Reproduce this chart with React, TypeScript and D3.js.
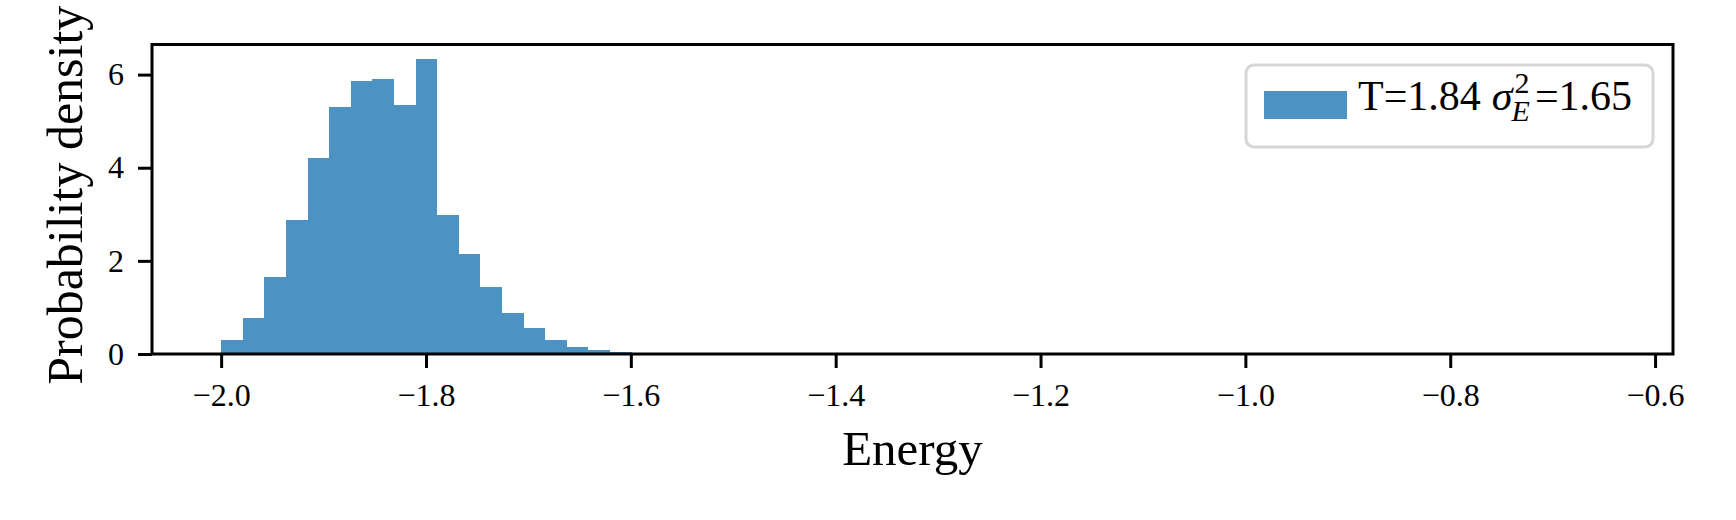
import React, { useEffect, useRef } from 'react';
import * as d3 from 'd3';

// histogram of sampled energies (density), bins start at -2.0
const binStart = -2.0;
const binWidth = 0.02109;
const densities = [
  0.3, 0.78, 1.65, 2.87, 4.21, 5.3, 5.86, 5.9, 5.34, 6.33,
  2.98, 2.14, 1.43, 0.89, 0.55, 0.31, 0.16, 0.08, 0.04,
];
// full range of the energy samples (the tail bins are ~0)
const dataRange = [-2.0, -0.65];

const xTicks = [-2.0, -1.8, -1.6, -1.4, -1.2, -1.0, -0.8, -0.6];
const yTicks = [0, 2, 4, 6];

const legendT = '1.84';
const legendVar = '1.65';

const W = 1736;
const H = 520;
const FONT = '"Liberation Serif", "Times New Roman", Times, serif';
const BAR = '#1f77b4';

export default function App() {
  const svgRef = useRef<SVGSVGElement>(null);

  useEffect(() => {
    document.body.style.margin = '0';
    if (!svgRef.current) return;

    const margin = { top: 44.5, right: 63, bottom: 166, left: 152 };
    const width = W - margin.left - margin.right;
    const height = H - margin.top - margin.bottom;

    d3.select(svgRef.current).selectAll('*').remove();

    const svg = d3.select(svgRef.current).attr('width', W).attr('height', H);
    const g = svg.append('g').attr('transform', `translate(${margin.left},${margin.top})`);

    // matplotlib-like 5% margins
    const span = dataRange[1] - dataRange[0];
    const xScale = d3
      .scaleLinear()
      .domain([dataRange[0] - 0.05 * span, dataRange[1] + 0.05 * span])
      .range([0, width]);
    const yMax = d3.max(densities)! * 1.05;
    const yScale = d3.scaleLinear().domain([0, yMax]).range([height, 0]);

    const bins = densities.map((d, i) => ({
      x0: binStart + i * binWidth,
      x1: binStart + (i + 1) * binWidth,
      v: d,
    }));

    // bars
    g.selectAll('rect.bar')
      .data(bins)
      .enter()
      .append('rect')
      .attr('class', 'bar')
      .attr('x', d => xScale(d.x0))
      .attr('width', d => xScale(d.x1) - xScale(d.x0))
      .attr('y', d => yScale(d.v))
      .attr('height', d => yScale(0) - yScale(d.v))
      .attr('fill', BAR)
      .attr('fill-opacity', 0.8)
      .attr('shape-rendering', 'crispEdges');

    // x axis
    const xAxis = g
      .append('g')
      .attr('transform', `translate(0,${height})`)
      .call(
        d3
          .axisBottom(xScale)
          .tickValues(xTicks)
          .tickSize(14)
          .tickPadding(15)
          .tickFormat(d => d3.format('.1f')(d as number).replace('-', '\u2212'))
      );
    xAxis.select('.domain').remove();
    xAxis.selectAll('line').attr('stroke', '#000').attr('stroke-width', 3);
    xAxis
      .selectAll('text')
      .attr('font-family', FONT)
      .attr('font-size', 32)
      .attr('fill', '#000');

    // y axis
    const yAxis = g
      .append('g')
      .call(
        d3
          .axisLeft(yScale)
          .tickValues(yTicks)
          .tickSize(14)
          .tickPadding(14)
          .tickFormat(d3.format('d'))
      );
    yAxis.select('.domain').remove();
    yAxis.selectAll('line').attr('stroke', '#000').attr('stroke-width', 3);
    yAxis
      .selectAll('text')
      .attr('font-family', FONT)
      .attr('font-size', 32)
      .attr('fill', '#000');

    // spines
    g.append('rect')
      .attr('width', width)
      .attr('height', height)
      .attr('fill', 'none')
      .attr('stroke', '#000')
      .attr('stroke-width', 3);

    // axis labels
    svg
      .append('text')
      .attr('x', margin.left + width / 2)
      .attr('y', 465)
      .attr('text-anchor', 'middle')
      .attr('font-family', FONT)
      .attr('font-size', 49)
      .text('Energy');

    svg
      .append('text')
      .attr('transform', `translate(82,${margin.top + height / 2 - 4}) rotate(-90)`)
      .attr('text-anchor', 'middle')
      .attr('font-family', FONT)
      .attr('font-size', 50)
      .text('Probability density');

    // legend
    const lg = svg.append('g').attr('transform', 'translate(1246,65)');
    lg.append('rect')
      .attr('width', 407)
      .attr('height', 82)
      .attr('rx', 8)
      .attr('fill', '#fff')
      .attr('fill-opacity', 0.8)
      .attr('stroke', '#d6d6d6')
      .attr('stroke-width', 3);
    lg.append('rect')
      .attr('x', 18)
      .attr('y', 26)
      .attr('width', 83)
      .attr('height', 28)
      .attr('fill', BAR)
      .attr('fill-opacity', 0.8);

    const t = lg
      .append('text')
      .attr('x', 112)
      .attr('y', 45)
      .attr('font-family', FONT)
      .attr('font-size', 42)
      .attr('fill', '#000');
    t.append('tspan').text(`T=${legendT}`);
    t.append('tspan').attr('dx', 11).attr('font-style', 'italic').text('\u03c3');
    const sup = t
      .append('tspan')
      .attr('font-size', 30)
      .attr('dy', -17)
      .attr('dx', 2)
      .text('2');
    const supW = (sup.node() as SVGTSpanElement).getComputedTextLength();
    t.append('tspan')
      .attr('font-size', 30)
      .attr('font-style', 'italic')
      .attr('dx', -supW - 3)
      .attr('dy', 28)
      .text('E');
    t.append('tspan').attr('dy', -11).attr('dx', 5).text(`=${legendVar}`);
  }, []);

  return <svg ref={svgRef} style={{ display: 'block' }} />;
}
